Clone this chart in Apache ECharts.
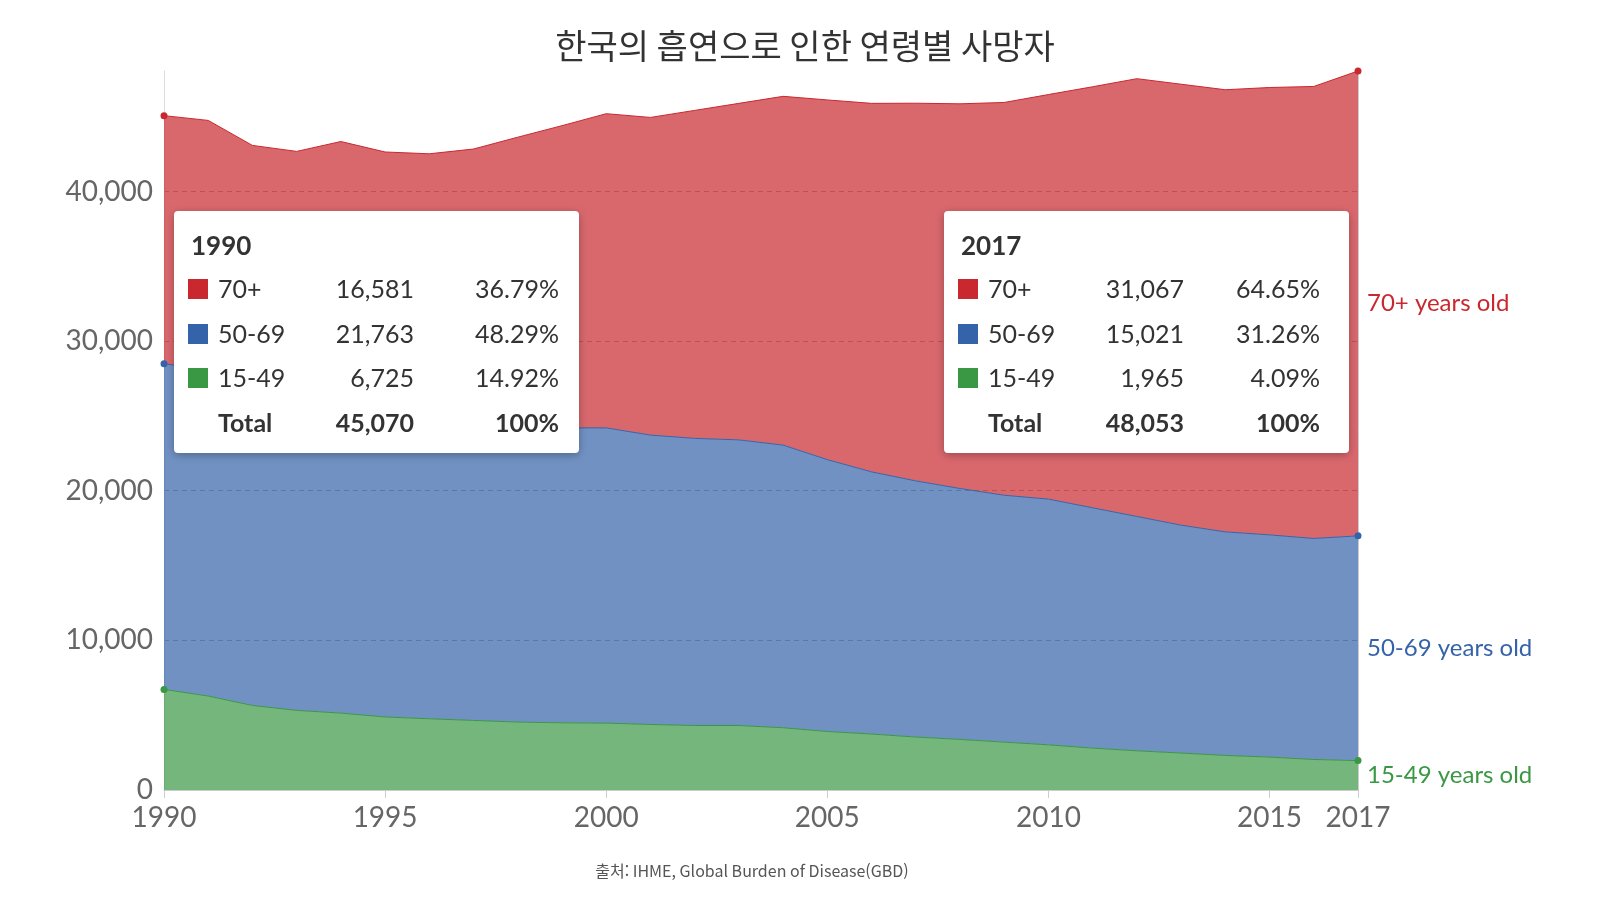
<!DOCTYPE html>
<html lang="ko">
<head>
<meta charset="utf-8">
<title>한국의 흡연으로 인한 연령별 사망자</title>
<script src="https://cdn.jsdelivr.net/npm/echarts@6/dist/echarts.min.js"></script>
<style>
  html, body { margin: 0; padding: 0; background: #fff; }
  #chart { width: 1600px; height: 900px; }
</style>
</head>
<body>
<div id="chart"></div>
<script>
  // years on the x axis
  const years = ['1990', '1991', '1992', '1993', '1994', '1995', '1996', '1997', '1998', '1999',
    '2000', '2001', '2002', '2003', '2004', '2005', '2006', '2007', '2008', '2009',
    '2010', '2011', '2012', '2013', '2014', '2015', '2016', '2017'];

  // deaths by age group (ends taken from the boxes)
  const deaths1549 = [6725, 6280, 5650, 5320, 5140, 4880, 4760, 4650, 4540, 4490,
    4470, 4380, 4310, 4310, 4160, 3910, 3740, 3540, 3380, 3200,
    3020, 2800, 2620, 2470, 2310, 2200, 2040, 1965];
  const deaths5069 = [21763, 21820, 21250, 21080, 20860, 20620, 20340, 20150, 19960, 19710,
    19730, 19340, 19190, 19090, 18890, 18170, 17520, 17120, 16770, 16500,
    16420, 16060, 15660, 15230, 14940, 14850, 14770, 15021];
  const deaths70 = [16581, 16650, 16180, 16280, 17340, 17140, 17420, 18040, 19130, 20200,
    21000, 21230, 21920, 22490, 23310, 24040, 24630, 25240, 25710, 26250,
    27040, 28140, 29260, 29470, 29550, 29900, 30210, 31067];

  // totals printed in the two boxes
  const boxYears = ['1990', '2017'];
  const boxTotals = [45070, 48053];

  const groups = [
    { name: '15-49', data: deaths1549, color: '#3a9744', label: '15-49 years old' },
    { name: '50-69', data: deaths5069, color: '#3563a9', label: '50-69 years old' },
    { name: '70+', data: deaths70, color: '#c9282f', label: '70+ years old' }
  ];

  const last = years.length - 1;
  const showYear = (i) => i % 5 === 0 || i === last;
  const fmt = (v) => v.toLocaleString('en-US');
  const TOP_Z = 100;

  const chart = echarts.init(document.getElementById('chart'));

  chart.setOption({
    animation: false,
    title: {
      text: '한국의 흡연으로 인한 연령별 사망자',
      left: 800,
      textAlign: 'center',
      top: 24,
      textStyle: { fontFamily: 'Noto Sans CJK KR', fontSize: 34, fontWeight: 'normal', color: '#333' }
    },
    grid: { left: 164, right: 242, top: 71, bottom: 110 },
    xAxis: {
      type: 'category',
      data: years,
      boundaryGap: false,
      axisLine: { lineStyle: { color: '#ccc' } },
      axisTick: { length: 8, lineStyle: { color: '#ccc' }, interval: (i) => showYear(i) },
      axisLabel: {
        interval: (i) => showYear(i),
        fontFamily: 'Lato', fontSize: 28, color: '#666', margin: 14
      }
    },
    yAxis: [{
      type: 'value',
      min: 0,
      max: 'dataMax',
      interval: 10000,
      axisLine: { show: true, lineStyle: { color: '#ddd' } },
      axisTick: { show: false },
      axisLabel: {
        fontFamily: 'Lato', fontSize: 28, color: '#666', margin: 11,
        showMaxLabel: false,
        formatter: (v) => (v % 10000 === 0 ? fmt(v) : '')
      },
      splitLine: { showMaxLine: false, lineStyle: { color: '#aaa', type: [5, 4] } }
    }, {
      type: 'value',
      position: 'right',
      min: 0,
      max: 'dataMax',
      axisLine: { show: true, lineStyle: { color: '#ccc' } },
      axisTick: { show: false },
      axisLabel: { show: false },
      splitLine: { show: false }
    }],
    series: groups.map(g => ({
      name: g.name,
      type: 'line',
      stack: 'total',
      data: g.data,
      yAxisIndex: 0,
      symbol: 'circle',
      showAllSymbol: true,
      symbolSize: (v, p) => (p.dataIndex === 0 || p.dataIndex === last ? 7 : 0),
      lineStyle: { width: 1, color: g.color },
      itemStyle: { color: g.color },
      areaStyle: { color: g.color, opacity: 0.7 },
      emphasis: { disabled: true }
    }))
  });

  function txt(x, y, text, font, fill, align) {
    return {
      type: 'text', z: TOP_Z,
      style: { x, y, text, font, fill, align: align || 'left', textAlign: align || 'left',
        verticalAlign: 'middle', textVerticalAlign: 'middle' }
    };
  }

  // summary boxes
  function makeBox(left, idx, year, total, pctRight) {
    const top = 211;
    const els = [{
      type: 'rect', z: TOP_Z,
      shape: { x: left, y: top, width: 405, height: 242, r: 4 },
      style: { fill: '#fff', shadowBlur: 8, shadowOffsetY: 2, shadowColor: 'rgba(0,0,0,0.3)' }
    }, txt(left + 17, 247, year, 'bold 26px Lato', '#333')];
    const rows = [groups[2], groups[1], groups[0]];
    const rowY = [290, 335, 379];
    rows.forEach((g, r) => {
      const v = g.data[idx];
      const y = rowY[r];
      els.push({
        type: 'rect', z: TOP_Z,
        shape: { x: left + 14, y: y - 11, width: 20, height: 20 },
        style: { fill: g.color }
      });
      els.push(txt(left + 44, y, g.name, '25px Lato', '#333'));
      els.push(txt(left + 240, y, fmt(v), '25px Lato', '#333', 'right'));
      els.push(txt(left + pctRight, y, (v / total * 100).toFixed(2) + '%', '25px Lato', '#333', 'right'));
    });
    els.push(txt(left + 44, 424, 'Total', 'bold 25px Lato', '#333'));
    els.push(txt(left + 240, 424, fmt(total), 'bold 25px Lato', '#333', 'right'));
    els.push(txt(left + pctRight, 424, '100%', 'bold 25px Lato', '#333', 'right'));
    return { type: 'group', children: els };
  }

  // labels beside the last year, in the middle of each band
  const sideLabels = [];
  let base = 0;
  groups.forEach(g => {
    const v = g.data[last];
    const pt = chart.convertToPixel({ xAxisIndex: 0, yAxisIndex: 0 }, [last, base + v / 2]);
    base += v;
    sideLabels.push(txt(pt[0] + 9, pt[1], g.label, '24px Lato', g.color));
  });

  chart.setOption({
    graphic: [
      makeBox(174, 0, boxYears[0], boxTotals[0], 385),
      makeBox(944, last, boxYears[1], boxTotals[1], 376),
      ...sideLabels,
      txt(752, 871, '출처: IHME, Global Burden of Disease(GBD)', '16px "Noto Sans CJK KR"', '#555', 'center')
    ]
  });
</script>
</body>
</html>
